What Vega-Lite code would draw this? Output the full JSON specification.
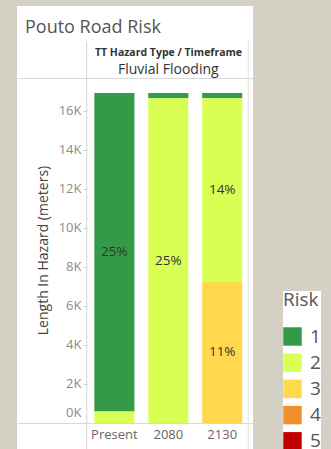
{
  "$schema": "https://vega.github.io/schema/vega-lite/v6.json",
  "width": 236,
  "height": 443,
  "autosize": {"type": "none"},
  "padding": {"left": 17, "top": 6, "right": 78, "bottom": 0},
  "background": "#d4d1c4",
  "config": {
    "font": "Open Sans",
    "view": {"fill": "white", "stroke": null}
  },
  "title": {
    "text": "Pouto Road Risk",
    "anchor": "start",
    "frame": "group",
    "fontSize": 18,
    "fontWeight": "normal",
    "color": "#555555",
    "baseline": "alphabetic",
    "offset": -22,
    "dx": 8,
    "dy": 23
  },
  "data": {
    "values": [
      {"timeframe": "Present", "risk": 1, "length": 16310, "pct": "25%"},
      {"timeframe": "Present", "risk": 2, "length": 590, "pct": ""},
      {"timeframe": "2080", "risk": 1, "length": 265, "pct": ""},
      {"timeframe": "2080", "risk": 2, "length": 16635, "pct": "25%"},
      {"timeframe": "2130", "risk": 1, "length": 265, "pct": ""},
      {"timeframe": "2130", "risk": 2, "length": 9385, "pct": "14%"},
      {"timeframe": "2130", "risk": 3, "length": 7250, "pct": "11%"}
    ]
  },
  "layer": [
    {
      "mark": {"type": "bar", "strokeWidth": 0},
      "encoding": {
        "x": {
          "field": "timeframe",
          "type": "nominal",
          "scale": {
            "domain": ["Present", "2080", "2130"],
            "paddingInner": 0.257,
            "paddingOuter": 0.817,
            "align": 0.878
          },
          "axis": {
            "orient": "bottom",
            "offset": -26,
            "title": null,
            "domain": false,
            "ticks": false,
            "grid": false,
            "labelAngle": 0,
            "labelFontSize": 13,
            "labelColor": "#666666",
            "labelPadding": 5
          }
        },
        "y": {
          "field": "length",
          "type": "quantitative",
          "stack": "zero",
          "scale": {"domain": [-1332, 21363], "nice": false, "zero": false},
          "axis": {
            "orient": "left",
            "offset": -70,
            "values": [0, 2000, 4000, 6000, 8000, 10000, 12000, 14000, 16000, 17674],
            "labelExpr": "datum.value > 17000 ? '' : (datum.value / 1000) + 'K'",
            "title": "Length In Hazard (meters)",
            "titleFontSize": 14,
            "titleFontWeight": "normal",
            "titleColor": "#444444",
            "titleX": -44,
            "titleY": 244,
            "titleAlign": "center",
            "titleBaseline": "middle",
            "domain": false,
            "tickSize": 4,
            "tickColor": "#cccccc",
            "tickOpacity": {"condition": {"test": "datum.value === 0 || datum.value > 17000", "value": 0}, "value": 1},
            "labelFontSize": 13,
            "labelColor": "#8a8a8a",
            "labelPadding": 2,
            "labelOffset": {"condition": {"test": "datum.value === 0", "value": -10}, "value": 0},
            "grid": true,
            "gridColor": "#d9d9d9",
            "gridOpacity": {"condition": {"test": "datum.value === 0 || datum.value > 17000", "value": 1}, "value": 0}
          }
        },
        "color": {
          "field": "risk",
          "type": "nominal",
          "scale": {
            "domain": [1, 2, 3, 4, 5],
            "range": ["#339a47", "#d9ff55", "#ffd84d", "#f28e2b", "#c00000"]
          },
          "legend": {
            "orient": "none",
            "legendX": 266,
            "legendY": 285,
            "title": "Risk",
            "titleFontSize": 19,
            "titleFontWeight": "normal",
            "titleColor": "#555555",
            "titlePadding": 17,
            "labelFontSize": 19,
            "labelColor": "#555555",
            "labelOffset": 8,
            "symbolType": "square",
            "symbolSize": 340,
            "symbolStrokeWidth": 0,
            "symbolOpacity": 1,
            "rowPadding": 6.2,
            "fillColor": "white",
            "padding": 0
          }
        },
        "order": {"field": "risk", "type": "quantitative", "sort": "descending"}
      }
    },
    {
      "mark": {"type": "text", "fontSize": 13.5, "color": "#333333"},
      "encoding": {
        "x": {
          "field": "timeframe",
          "type": "nominal",
          "axis": {
            "orient": "top",
            "offset": -72,
            "title": "TT Hazard Type / Timeframe",
            "titleFontSize": 10.5,
            "titleFontWeight": "bold",
            "titleColor": "#333333",
            "titleX": 151,
            "titleY": -23,
            "titleAlign": "center",
            "titleBaseline": "alphabetic",
            "domain": false,
            "ticks": false,
            "grid": false,
            "labelAngle": 0,
            "labelExpr": "datum.value === '2080' ? 'Fluvial Flooding' : ''",
            "labelFontSize": 14,
            "labelColor": "#333333",
            "labelPadding": 5,
            "labelBaseline": "alphabetic"
          }
        },
        "y": {"field": "length", "type": "quantitative", "stack": "zero", "bandPosition": 0.5},
        "detail": {"field": "risk", "type": "nominal"},
        "order": {"field": "risk", "type": "quantitative", "sort": "descending"},
        "text": {"field": "pct", "type": "nominal"}
      }
    },
    {
      "data": {"values": [{"border": "left"}]},
      "mark": {"type": "rule", "color": "#d4d4d4", "strokeWidth": 1},
      "encoding": {
        "x": {"datum": "Present", "type": "nominal", "bandPosition": -0.19, "axis": null},
        "y": {"datum": 19570, "type": "quantitative"},
        "y2": {"datum": -1332}
      }
    },
    {
      "data": {"values": [{"border": "right"}]},
      "mark": {"type": "rule", "color": "#e3e3e3", "strokeWidth": 1},
      "encoding": {
        "x": {"datum": "2130", "type": "nominal", "bandPosition": 1.15, "axis": null},
        "y": {"datum": 19570, "type": "quantitative"},
        "y2": {"datum": -1332}
      }
    }
  ],
  "resolve": {"axis": {"x": "independent"}}
}
